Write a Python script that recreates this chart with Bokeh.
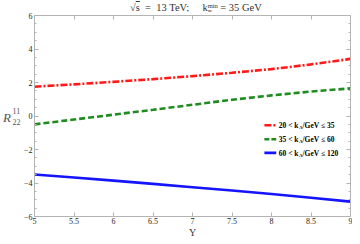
from bokeh.plotting import figure
from bokeh.models import Label, LinearAxis, FixedTicker, Range1d, Div
from bokeh.layouts import column, row
from bokeh.embed import file_html
from bokeh.resources import INLINE

# ---- data ----
Y = [5.0, 5.5, 6.0, 6.5, 7.0, 7.5, 8.0, 8.5, 9.0]
r_20_35 = [1.75, 1.89, 2.04, 2.20, 2.38, 2.58, 2.80, 3.08, 3.41]
r_35_60 = [-0.50, -0.21, 0.08, 0.37, 0.67, 0.97, 1.23, 1.46, 1.65]
r_60_120 = [-3.49, -3.67, -3.86, -4.05, -4.25, -4.45, -4.66, -4.88, -5.11]

x_ticks = [5, 5.5, 6, 6.5, 7, 7.5, 8, 8.5, 9]
x_tick_labels = ["5", "5.5", "6", "6.5", "7", "7.5", "8", "8.5", "9"]
y_ticks = [-6, -4, -2, 0, 2, 4, 6]
y_tick_labels = ["\u22126", "\u22124", "\u22122", "0", "2", "4", "6"]
y_minor = [-5.5, -5, -4.5, -3.5, -3, -2.5, -1.5, -1, -0.5,
           0.5, 1, 1.5, 2.5, 3, 3.5, 4.5, 5, 5.5]

legend_lo = ["20", "35", "60"]
legend_hi = ["35", "60", "120"]

FONT = "Liberation Serif"
FRAME = "#b4b4b4"
TXT = "#333333"

p = figure(width=332, height=215, x_range=Range1d(5, 9), y_range=Range1d(-6, 6),
           output_backend="svg", toolbar_location=None,
           min_border_left=12, min_border_right=2, min_border_top=4, min_border_bottom=10)
p.margin = 0
p.grid.visible = False
p.outline_line_color = FRAME
p.background_fill_color = "white"

def style_axis(ax):
    ax.axis_line_color = FRAME
    ax.major_tick_line_color = FRAME
    ax.minor_tick_line_color = FRAME
    ax.major_tick_in = 4
    ax.major_tick_out = 0
    ax.minor_tick_in = 2
    ax.minor_tick_out = 0
    ax.major_label_text_font = FONT
    ax.major_label_text_font_size = "8px"
    ax.major_label_text_color = "#222222"
    ax.major_label_standoff = 1

xa = p.xaxis[0]
xa.ticker = FixedTicker(ticks=x_ticks)
xa.major_label_overrides = {t: l for t, l in zip(x_ticks, x_tick_labels)}
style_axis(xa)

ya = p.yaxis[0]
ya.ticker = FixedTicker(ticks=y_ticks, minor_ticks=y_minor)
ya.major_label_overrides = {t: l for t, l in zip(y_ticks, y_tick_labels)}
style_axis(ya)
ya.major_label_standoff = 2

top = LinearAxis(ticker=FixedTicker(ticks=x_ticks),
                 major_label_overrides={t: "" for t in x_ticks})
style_axis(top)
top.major_label_standoff = 0
top.major_label_text_font_size = "0px"
p.add_layout(top, "above")
right = LinearAxis(ticker=FixedTicker(ticks=y_ticks, minor_ticks=y_minor),
                   major_label_overrides={t: "" for t in y_ticks})
style_axis(right)
right.major_label_standoff = 0
right.major_label_text_font_size = "0px"
p.add_layout(right, "right")

# ---- curves ----
p.line(Y, r_20_35, line_color="#ff1a1a", line_width=2.6, line_dash="7 2 2 2")
p.line(Y, r_35_60, line_color="#1f8c1f", line_width=2.6, line_dash="6 3")
p.line(Y, r_60_120, line_color="#1414ff", line_width=2.6)

# ---- legend (manual, to allow the subscript) ----
leg_x = [7.91, 8.06]
leg_y = [-0.55, -1.385, -2.2]
leg_style = [dict(line_color="#ff1a1a", line_dash="7 2 2 2"),
             dict(line_color="#1f8c1f", line_dash="5 2"),
             dict(line_color="#1414ff")]
for i in range(3):
    p.line(leg_x, [leg_y[i], leg_y[i]], line_width=2.6, **leg_style[i])
    base = -(110 + 13.8 * i)
    p.add_layout(Label(x=5, y=6, x_offset=264, y_offset=base, text=legend_lo[i] + " < k",
                       text_align="right", text_baseline="middle", text_font=FONT,
                       text_font_style="bold", text_font_size="7.5px", text_color="black"))
    p.add_layout(Label(x=5, y=6, x_offset=264.5, y_offset=base - 2, text="A",
                       text_align="left", text_baseline="middle", text_font=FONT,
                       text_font_style="bold", text_font_size="5px", text_color="black"))
    p.add_layout(Label(x=5, y=6, x_offset=268, y_offset=base, text="/GeV \u2264 " + legend_hi[i],
                       text_align="left", text_baseline="middle", text_font=FONT,
                       text_font_style="bold", text_font_size="7.5px", text_color="black"))

# ---- title (HTML, for the sub/superscripts) ----
title_html = (
    '<div style="position:relative;width:352px;height:11px;white-space:nowrap;'
    'font-family:\'Liberation Serif\';font-size:10.5px;line-height:12px;color:#333">'
    '<span style="position:absolute;left:130px;top:1px">'
    '\u221a<span style="text-decoration:overline">s</span>&ensp;=&ensp;13 TeV;'
    '&emsp;&nbsp;k<span style="display:inline-block;position:relative;width:10px;height:1px">'
    '<span style="position:absolute;left:0;bottom:2px;font-size:6.5px;line-height:6px">min</span>'
    '<span style="position:absolute;left:0;top:-1px;font-size:6.5px;line-height:6px">B</span>'
    '</span>&nbsp;=&nbsp;35 GeV</span></div>'
)
title_div = Div(text=title_html, width=352, height=11, margin=0)

ylab_html = (
    '<div style="position:relative;width:20px;height:215px;'
    'font-family:\'Liberation Serif\';color:#555">'
    '<span style="position:absolute;left:3px;top:100px;font-size:13px;line-height:13px;font-style:italic">R</span>'
    '<span style="position:absolute;left:12.5px;top:97px;font-size:8px;line-height:8px">11</span>'
    '<span style="position:absolute;left:12.5px;top:107.5px;font-size:8px;line-height:8px">22</span>'
    '</div>'
)
ylab_div = Div(text=ylab_html, width=20, height=215, margin=0)

xlab_html = (
    '<div style="position:relative;width:352px;height:10px;'
    'font-family:\'Liberation Serif\';font-size:10px;line-height:10px;color:#333">'
    '<span style="position:absolute;left:189px;top:0">Y</span></div>'
)
xlab_div = Div(text=xlab_html, width=352, height=10, margin=0)

layout = column(title_div, row(ylab_div, p, spacing=0), xlab_div, spacing=0)
layout.margin = 0

open("out.html", "w").write(file_html(layout, INLINE))
